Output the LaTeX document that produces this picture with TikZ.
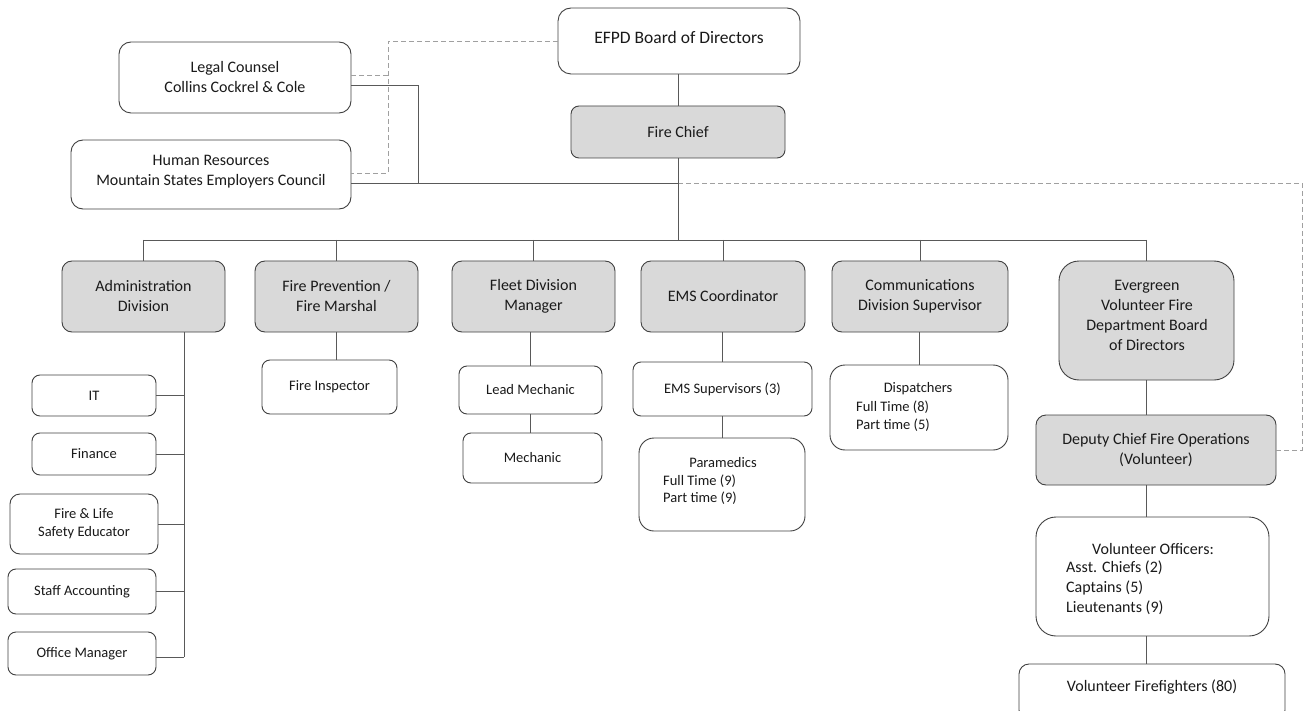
\documentclass[tikz,border=0pt]{standalone}
\usepackage{fontspec}
\setmainfont{Carlito}
\definecolor{bordercol}{HTML}{404040}
\definecolor{grayfill}{HTML}{D9D9D9}
\definecolor{linecol}{HTML}{595959}
\definecolor{dashcol}{HTML}{A0A0A0}
\definecolor{txtcol}{HTML}{1A1A1A}
\newcommand{\fsbig}{\fontsize{17.5}{21}\selectfont}
\newcommand{\fsmid}{\fontsize{16}{20}\selectfont}
\newcommand{\fssmall}{\fontsize{14.5}{18}\selectfont}
\tikzset{
  box/.style={draw=bordercol, line width=0.9pt, rounded corners=10pt, fill=white,
    inner sep=0pt, align=center, text=txtcol, font=\fsmid},
  gbox/.style={box, fill=grayfill},
  sbox/.style={box, font=\fssmall, rounded corners=8pt},
  conn/.style={draw=linecol, line width=0.8pt},
  dconn/.style={draw=dashcol, line width=0.9pt, dash pattern=on 5pt off 3pt},
  txt/.style={inner sep=0pt, text=txtcol, align=center},
}
\begin{document}
\begin{tikzpicture}[x=1pt, y=-1pt]
\useasboundingbox (0,0) rectangle (1303,711);
% top
\node[box, rounded corners=13pt, minimum width=242pt, minimum height=66pt] (board) at (679,41) {};
\node[txt, font=\fsbig] (boardt) at (679,37) {EFPD Board of Directors};
\node[box, rounded corners=12pt, minimum width=232pt, minimum height=71pt] (legal) at (235,77.5) {Legal Counsel\\Collins Cockrel \& Cole};
\node[box, rounded corners=12pt, minimum width=280pt, minimum height=69pt] (hr) at (211,174.5) {};
\node[txt, font=\fsmid] (hrt) at (211,171.5) {Human Resources\\Mountain States Employers Council};
\node[gbox, rounded corners=8pt, minimum width=214pt, minimum height=52pt] (chief) at (678,132) {Fire Chief};
% divisions
\node[gbox, minimum width=163pt, minimum height=71pt] (admin) at (143.5,296.5) {Administration\\Division};
\node[gbox, minimum width=163pt, minimum height=71pt] (fp) at (336.5,296.5) {Fire Prevention /\\Fire Marshal};
\node[gbox, minimum width=163pt, minimum height=71pt] (fleet) at (533.5,296.5) {Fleet Division\\Manager};
\node[gbox, minimum width=164pt, minimum height=71pt] (ems) at (723,296.5) {EMS Coordinator};
\node[gbox, minimum width=176pt, minimum height=71pt] (comm) at (920,296.5) {Communications\\Division Supervisor};
\node[gbox, rounded corners=20pt, minimum width=175pt, minimum height=119pt] (evg) at (1146.5,320.5) {};
\node[txt, font=\fsmid] (evgt) at (1147,315) {Evergreen\\Volunteer Fire\\Department Board\\of Directors};
% admin subordinates
\node[sbox, minimum width=124pt, minimum height=41pt] (it) at (94,395.5) {IT};
\node[sbox, minimum width=124pt, minimum height=42pt] (fin) at (94,454) {Finance};
\node[sbox, rounded corners=10pt, minimum width=148pt, minimum height=60pt] (fls) at (84,524) {Fire \& Life\\Safety Educator};
\node[sbox, minimum width=148pt, minimum height=45pt] (sa) at (82,591.5) {Staff Accounting};
\node[sbox, minimum width=148pt, minimum height=43pt] (om) at (82,653.5) {Office Manager};
% other subordinates
\node[sbox, minimum width=135pt, minimum height=54pt] (fi) at (329.5,387) {Fire Inspector};
\node[sbox, minimum width=143pt, minimum height=48pt] (lm) at (530.5,390) {Lead Mechanic};
\node[sbox, minimum width=139pt, minimum height=50pt] (mech) at (532.5,458) {Mechanic};
\node[sbox, minimum width=179pt, minimum height=54pt] (emss) at (722.5,389) {EMS Supervisors (3)};
\node[sbox, rounded corners=15pt, minimum width=166pt, minimum height=93pt] (para) at (722,484.5) {};
\node[txt, font=\fssmall] (parah) at (723,463) {Paramedics};
\node[txt, font=\fssmall, anchor=west] (para1) at (663,481) {Full Time (9)};
\node[txt, font=\fssmall, anchor=west] (para2) at (663,498) {Part time (9)};
\node[sbox, rounded corners=15pt, minimum width=178pt, minimum height=85pt] (disp) at (919,407.5) {};
\node[txt, font=\fssmall] (disph) at (918,389) {Dispatchers};
\node[txt, font=\fssmall, anchor=west] (disp1) at (856,407) {Full Time (8)};
\node[txt, font=\fssmall, anchor=west] (disp2) at (856,425) {Part time (5)};
% volunteer column
\node[gbox, rounded corners=10pt, minimum width=240pt, minimum height=70pt] (deputy) at (1156,450) {Deputy Chief Fire Operations\\(Volunteer)};
\node[box, rounded corners=20pt, minimum width=233pt, minimum height=119pt] (vo) at (1152.5,576.5) {};
\node[txt, font=\fsmid] (voh) at (1153,549) {Volunteer Officers:};
\node[txt, font=\fsmid, anchor=west] (vo1) at (1066,568) {Asst. Chiefs (2)};
\node[txt, font=\fsmid, anchor=west] (vo2) at (1066,588) {Captains (5)};
\node[txt, font=\fsmid, anchor=west] (vo3) at (1066,608) {Lieutenants (9)};
\node[box, rounded corners=10pt, minimum width=266pt, minimum height=56pt] (vf) at (1152,692) {};
\node[txt, font=\fsmid] (vft) at (1152,687) {Volunteer Firefighters (80)};
% coordinates
\coordinate (j1) at (678,183);
\coordinate (dj) at (388,75);
% dashed connectors
\draw[dconn] (board.west) -| (388,173) -- (hr.east |- 0,173);
\draw[dconn] (dj) -- (legal.east |- dj);
\draw[dconn] (j1) -| (1302,450) -- (deputy.east);
% solid connectors top
\draw[conn] (board.south -| chief.north) -- (chief.north);
\draw[conn] (chief.south) -- (chief.south |- 0,240);
\draw[conn] ([yshift=-7.5pt]legal.east) -| (j1 -| 418,0);
\draw[conn] (hr.east |- j1) -- (j1);
% bus
\draw[conn] (admin.north |- 0,240) -- (evg.north |- 0,240);
\foreach \n in {admin,fp,fleet,ems,comm,evg}{
  \draw[conn] (\n.north |- 0,240) -- (\n.north);
}
% admin branch
\draw[conn] (admin.south -| 184,0) -- (184,657);
\foreach \n in {it,fin,fls,sa}{
  \draw[conn] (\n.east) -- (\n.east -| 184,0);
}
\draw[conn] (om.east |- 0,657) -- (184,657);
% others
\draw[conn] (fp.south) -- (fp.south |- fi.north);
\draw[conn] (fleet.south -| lm.north) -- (lm.north);
\draw[conn] (lm.south) -- (lm.south |- mech.north);
\draw[conn] (ems.south -| emss.north) -- (emss.north);
\draw[conn] (emss.south) -- (emss.south |- para.north);
\draw[conn] (comm.south -| disp.north) -- (disp.north);
\draw[conn] (evg.south) -- (evg.south |- deputy.north);
\draw[conn] (deputy.south -| evg.south) -- (evg.south |- vo.north);
\draw[conn] (vo.south -| evg.south) -- (evg.south |- vf.north);
\end{tikzpicture}
\end{document}
